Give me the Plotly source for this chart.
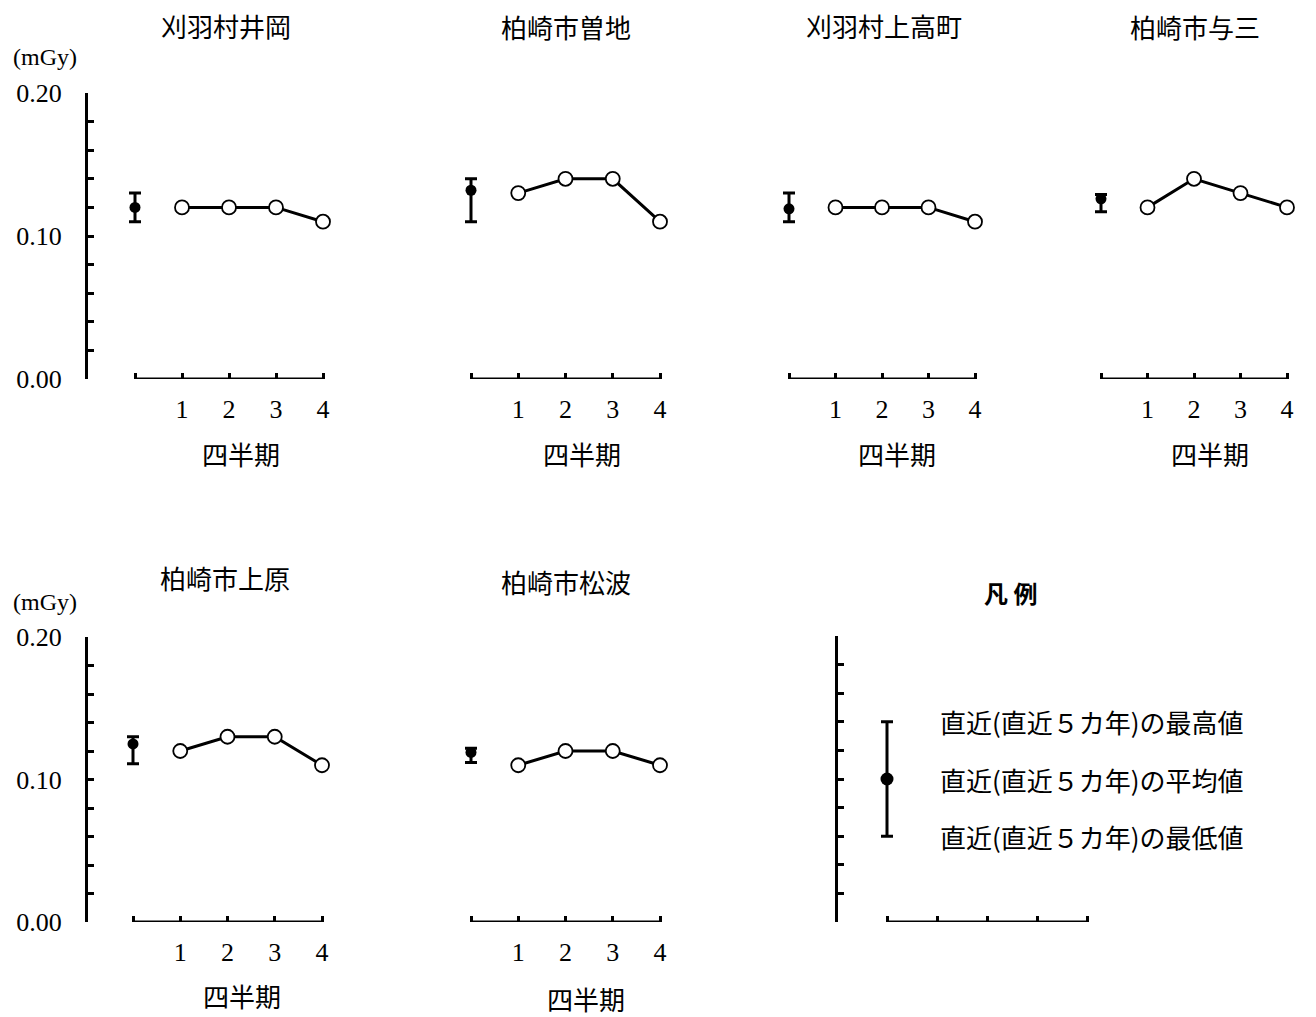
import plotly.graph_objects as go

# page body has an 8px default margin: figure is drawn 8px in from the top-left
OFF = 8
W, H = 1316 - OFF, 1017 - OFF

# ---------------- data ----------------
stations = ["刈羽村井岡", "柏崎市曽地", "刈羽村上高町", "柏崎市与三", "柏崎市上原", "柏崎市松波"]
quarters = [1, 2, 3, 4]
quarter_labels = ["1", "2", "3", "4"]

kariwa_ioka = [0.12, 0.12, 0.12, 0.11]
kashiwazaki_soji = [0.13, 0.14, 0.14, 0.11]
kariwa_kamitakamachi = [0.12, 0.12, 0.12, 0.11]
kashiwazaki_yosan = [0.12, 0.14, 0.13, 0.12]
kashiwazaki_uehara = [0.12, 0.13, 0.13, 0.11]
kashiwazaki_matsunami = [0.11, 0.12, 0.12, 0.11]
quarter_series = [kariwa_ioka, kashiwazaki_soji, kariwa_kamitakamachi,
                  kashiwazaki_yosan, kashiwazaki_uehara, kashiwazaki_matsunami]

past5_max = [0.13, 0.14, 0.13, 0.129, 0.13, 0.122]
past5_mean = [0.120, 0.132, 0.119, 0.126, 0.125, 0.119]
past5_min = [0.11, 0.11, 0.11, 0.117, 0.111, 0.112]

legend_max = 0.14
legend_mean = 0.10
legend_min = 0.06
legend_texts = ["直近(直近５カ年)の最高値", "直近(直近５カ年)の平均値", "直近(直近５カ年)の最低値"]

y_tickvals = [0.00, 0.02, 0.04, 0.06, 0.08, 0.10, 0.12, 0.14, 0.16, 0.18, 0.20]
y_ticktext = ["0.00", "", "", "", "", "0.10", "", "", "", "", "0.20"]
unit_label = "(mGy)"
x_title = "四半期"
legend_title = "凡 例"

# ---------------- layout geometry (screen pixels) ----------------
# (x at 0, x at 4, y top (0.20), y bottom (0.00), y-axis pixel or None)
panels = [
    (135, 323, 93, 379, 86),
    (471, 660, 93, 379, None),
    (789, 975, 93, 379, None),
    (1101, 1287, 93, 379, None),
    (133, 322, 637, 922, 86),
    (471, 660, 637, 922, None),
]
legend_panel = (887, 1087, 636, 922, 836)
title_pos = [(226, 25), (566, 27), (884, 25), (1195, 27), (225, 577), (566, 581)]
xlabel_pos = [(241, 453), (582, 453), (897, 453), (1210, 453), (242, 995), (586, 998)]

SERIF = "Liberation Serif, Noto Sans CJK JP"
CJK = "Noto Sans CJK JP, Liberation Serif"
CJK_SIZE = 26
PAD = 0.2


def PX(px):
    return (px - OFF) / W


def PY(py):
    return 1 - (py - OFF) / H


def xdom(x0, x4):
    u = (x4 - x0) / 4.0
    return [PX(x0 - PAD * u), PX(x4 + PAD * u)]


def ydom(yt, yb):
    return [PY(yb), PY(yt)]


fig = go.Figure()
shapes = []
annotations = []
layout = {}

all_panels = panels + [legend_panel]
for i, (x0, x4, yt, yb, yax) in enumerate(all_panels):
    n = i + 1
    xa = "x" if n == 1 else f"x{n}"
    ya = "y" if n == 1 else f"y{n}"
    is_legend = (i == len(panels))
    layout[f"xaxis{'' if n == 1 else n}"] = dict(
        domain=xdom(x0, x4), range=[-PAD, 4 + PAD], anchor=ya, automargin=False,
        showline=False, showgrid=False, zeroline=False,
        ticks="inside", ticklen=6, tickwidth=3, tickcolor="black",
        tickmode="array", tickvals=[0, 1, 2, 3, 4],
        ticktext=["", "", "", "", ""] if is_legend else [""] + quarter_labels,
        tickfont=dict(family=SERIF, size=26, color="black"),
        ticklabelstandoff=12, fixedrange=True,
    )
    yd = dict(
        domain=ydom(yt, yb), range=[0, 0.2], showgrid=False, zeroline=False,
        fixedrange=True, automargin=False,
    )
    if yax is None:
        yd.update(visible=False, anchor=xa)
    else:
        yd.update(
            anchor="free", position=PX(yax), showline=True, linewidth=3, linecolor="black",
            ticks="inside", ticklen=6, tickwidth=3, tickcolor="black",
            tickmode="array", tickvals=y_tickvals,
            ticktext=[""] * len(y_tickvals) if is_legend else y_ticktext,
            tickfont=dict(family=SERIF, size=26, color="black"),
            ticklabelstandoff=18,
        )
    layout[f"yaxis{'' if n == 1 else n}"] = yd
    shapes.append(dict(type="line", xref=xa, yref=ya, x0=0, x1=4, y0=0, y1=0,
                       line=dict(color="black", width=3)))

    if not is_legend:
        vals = quarter_series[i]
        fig.add_trace(go.Scatter(
            x=quarters, y=vals, xaxis=xa, yaxis=ya, mode="lines+markers",
            line=dict(color="black", width=3),
            marker=dict(symbol="circle", size=14, color="white",
                        line=dict(color="black", width=1.8)),
            cliponaxis=False, showlegend=False, hoverinfo="skip"))
        fig.add_trace(go.Scatter(
            x=[0], y=[past5_mean[i]], xaxis=xa, yaxis=ya, mode="markers",
            marker=dict(symbol="circle", size=11, color="black"),
            error_y=dict(type="data", symmetric=False,
                         array=[past5_max[i] - past5_mean[i]],
                         arrayminus=[past5_mean[i] - past5_min[i]],
                         color="black", thickness=3, width=6),
            cliponaxis=False, showlegend=False, hoverinfo="skip"))
        tx, ty = title_pos[i]
        annotations.append(dict(text=stations[i], x=PX(tx), y=PY(ty), xref="paper", yref="paper",
                                showarrow=False, xanchor="center", yanchor="middle",
                                font=dict(family=CJK, size=CJK_SIZE, color="black")))
        lx, ly = xlabel_pos[i]
        annotations.append(dict(text=x_title, x=PX(lx), y=PY(ly), xref="paper", yref="paper",
                                showarrow=False, xanchor="center", yanchor="middle",
                                font=dict(family=CJK, size=CJK_SIZE, color="black")))
    else:
        fig.add_trace(go.Scatter(
            x=[0], y=[legend_mean], xaxis=xa, yaxis=ya, mode="markers",
            marker=dict(symbol="circle", size=13, color="black"),
            error_y=dict(type="data", symmetric=False,
                         array=[legend_max - legend_mean],
                         arrayminus=[legend_mean - legend_min],
                         color="black", thickness=3, width=6),
            cliponaxis=False, showlegend=False, hoverinfo="skip"))
        for txt, yv in zip(legend_texts, [legend_max, legend_mean, legend_min]):
            annotations.append(dict(text=txt, x=PX(938), xref="paper", y=yv, yref=ya,
                                    showarrow=False, xanchor="left", yanchor="middle",
                                    font=dict(family=CJK, size=CJK_SIZE, color="black")))
        annotations.append(dict(text="<b>" + legend_title + "</b>", x=PX(1010), y=PY(592),
                                xref="paper", yref="paper", showarrow=False,
                                xanchor="center", yanchor="middle",
                                font=dict(family=CJK, size=24, color="black")))

for uy in (57, 602):
    annotations.append(dict(text=unit_label, x=PX(45), y=PY(uy), xref="paper", yref="paper",
                            showarrow=False, xanchor="center", yanchor="middle",
                            font=dict(family=SERIF, size=24, color="black")))

fig.update_layout(
    width=W, height=H, margin=dict(l=0, r=0, t=0, b=0, autoexpand=False),
    paper_bgcolor="white", plot_bgcolor="white",
    shapes=shapes, annotations=annotations, showlegend=False,
    **layout,
)

fig.write_html("out.html")
